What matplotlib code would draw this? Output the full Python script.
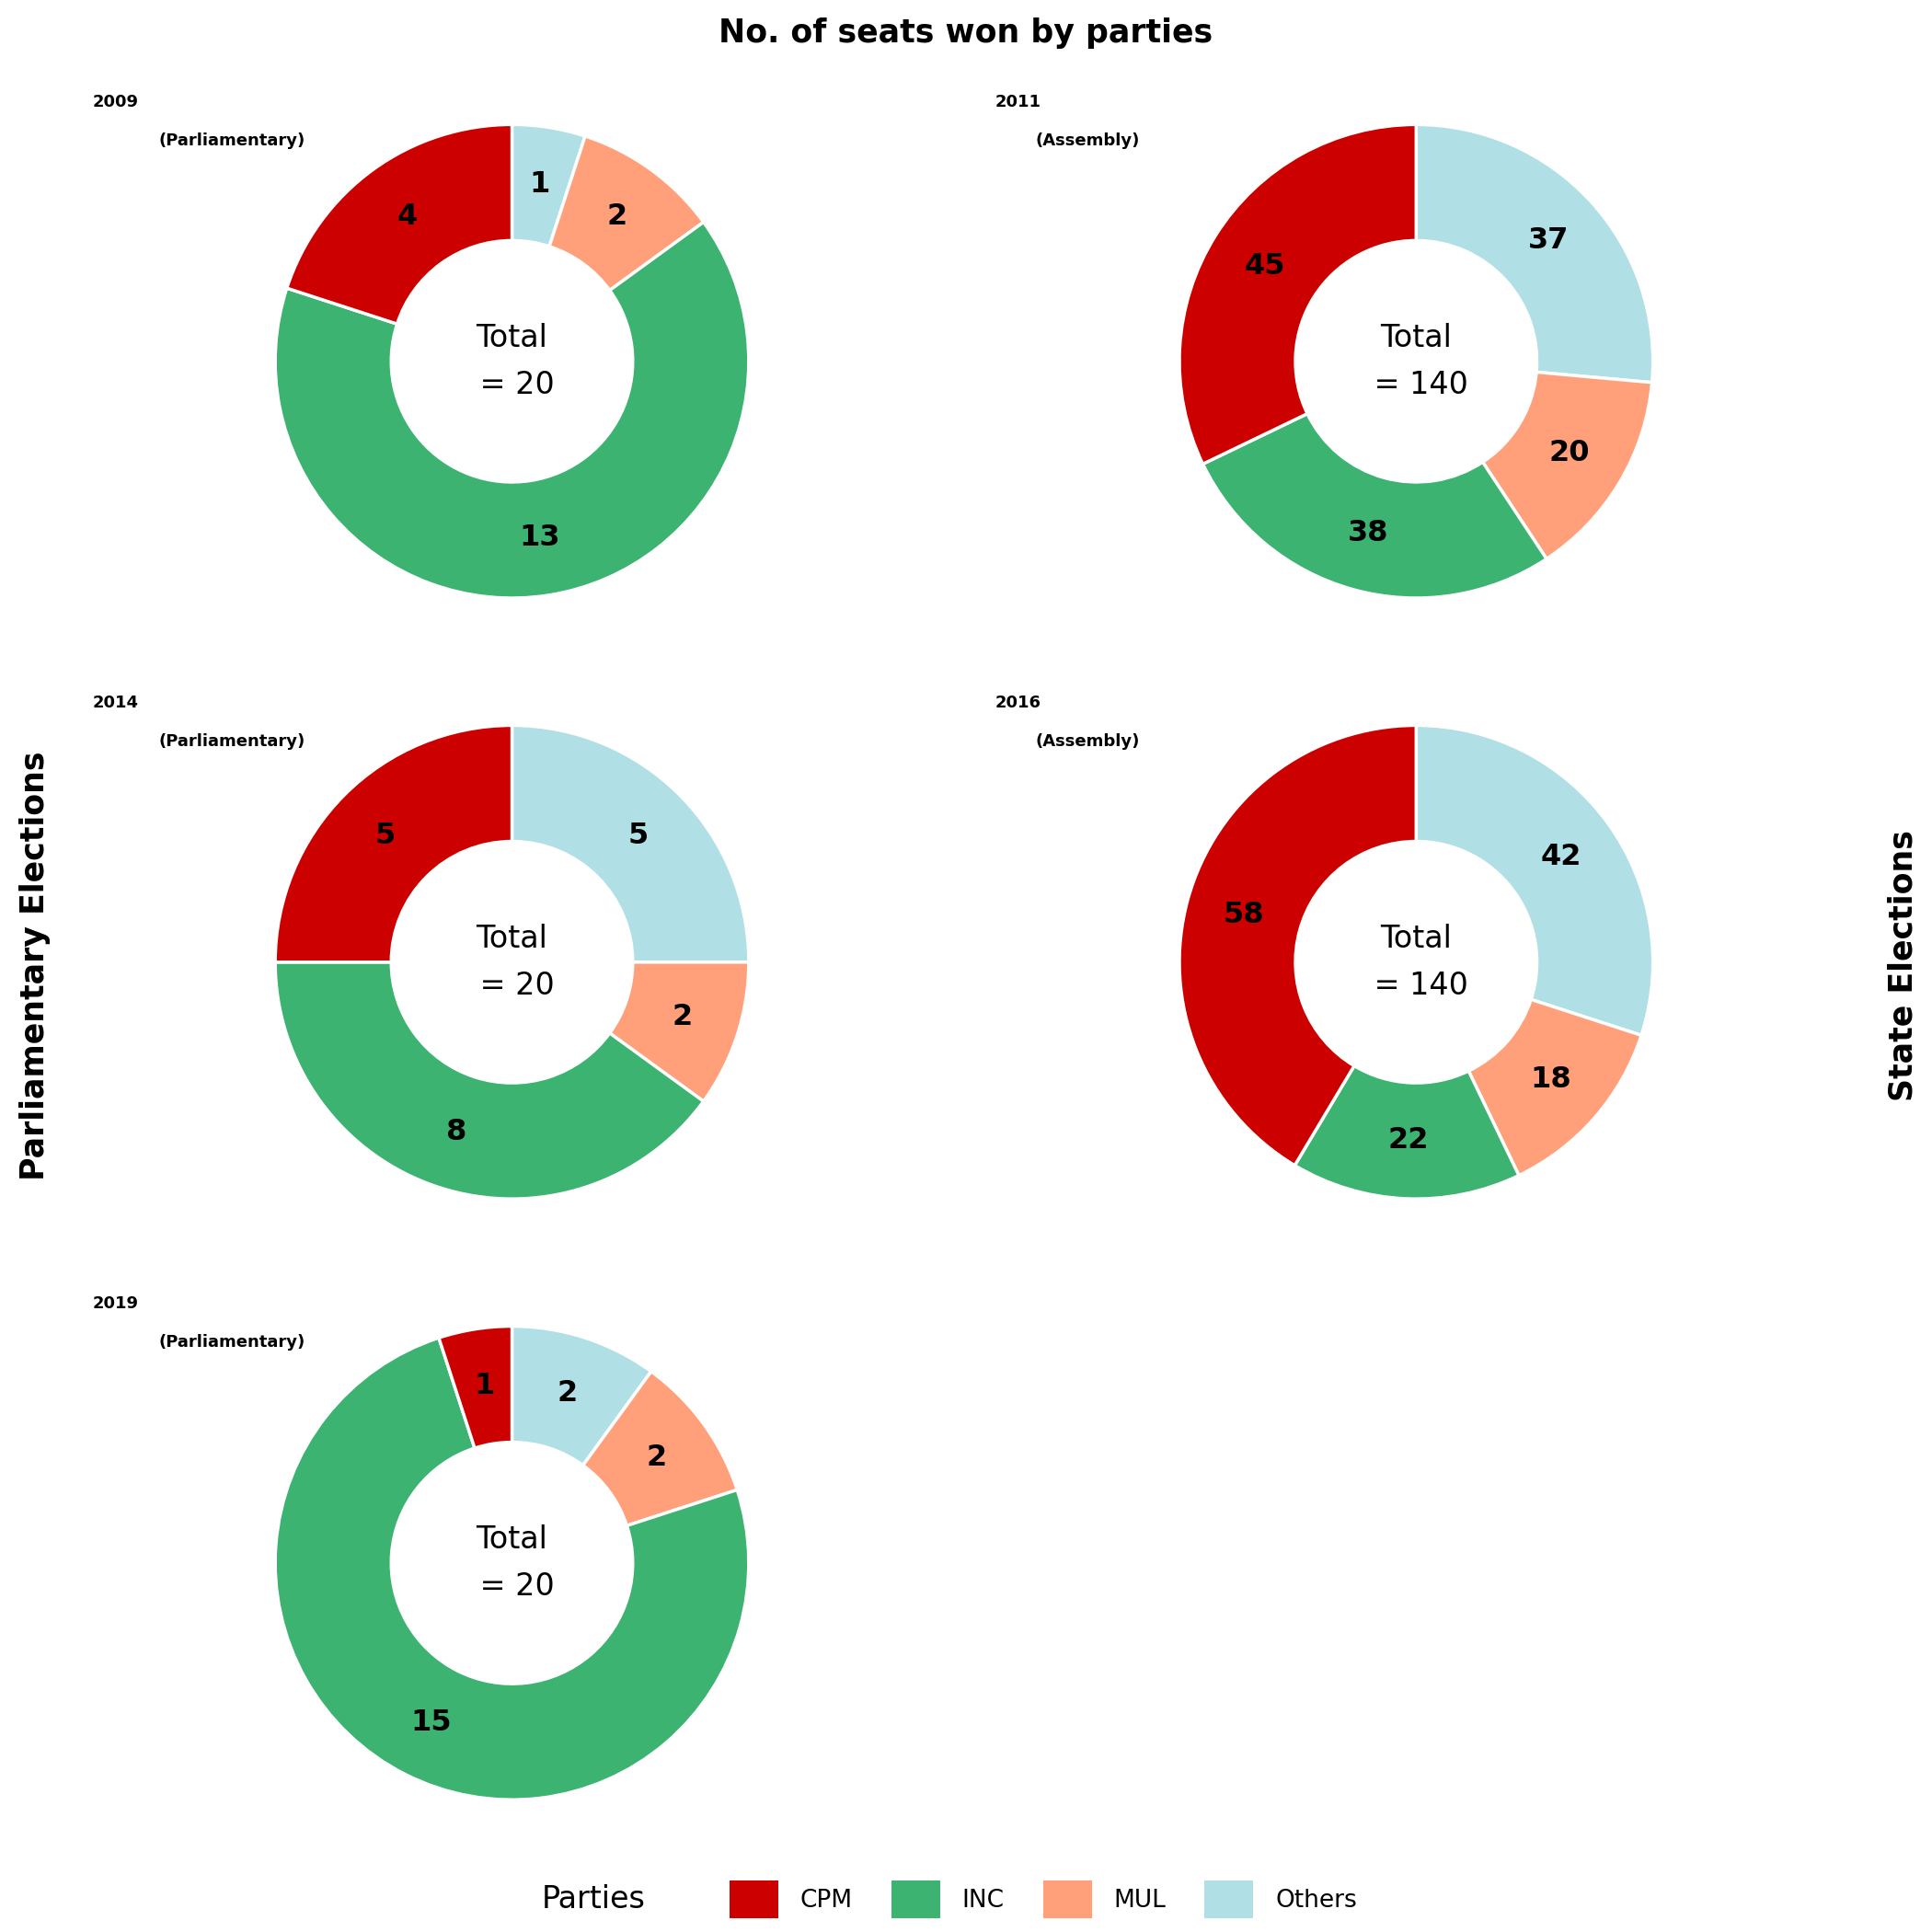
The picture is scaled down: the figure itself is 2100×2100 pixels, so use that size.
import matplotlib
matplotlib.use('Agg')
import matplotlib.pyplot as plt
from matplotlib.patches import Patch
import numpy as np

parties = ['CPM', 'INC', 'MUL', 'Others']
colors = {'CPM': '#CD0000', 'INC': '#3CB371', 'MUL': '#FFA07A', 'Others': '#B0DFE5'}

years = ['2009', '2011', '2014', '2016', '2019']
kinds = ['(Parliamentary)', '(Assembly)', '(Parliamentary)', '(Assembly)', '(Parliamentary)']
cpm = [4, 45, 5, 58, 1]
inc = [13, 38, 8, 22, 15]
mul = [2, 20, 2, 18, 2]
others = [1, 37, 5, 42, 2]
totals = [20, 140, 20, 140, 20]

# grid slot (col, row) for each election
slots = [(0, 0), (1, 0), (0, 1), (1, 1), (0, 2)]
cx = [0.265, 0.733]
cy = [0.813, 0.502, 0.191]
size = 0.25

fig = plt.figure(figsize=(21, 21), dpi=100)

for i, year in enumerate(years):
    col, row = slots[i]
    ax = fig.add_axes([cx[col] - size / 2, cy[row] - size / 2, size, size])
    order = ['Others', 'MUL', 'INC', 'CPM']
    vals = {'CPM': cpm[i], 'INC': inc[i], 'MUL': mul[i], 'Others': others[i]}
    v = [vals[p] for p in order]
    ax.pie(v, colors=[colors[p] for p in order], startangle=90, counterclock=False,
           radius=1, wedgeprops=dict(width=0.49, edgecolor='white', linewidth=2.5))
    cum = np.cumsum([0] + v)
    for k, val in enumerate(v):
        mid = (cum[k] + cum[k + 1]) / 2 / cum[-1]
        ang = np.pi / 2 - 2 * np.pi * mid
        ax.text(0.755 * np.cos(ang), 0.755 * np.sin(ang), str(val), ha='center', va='center',
                fontsize=23, fontweight='bold')
    ax.text(0, 0.0, 'Total\n = %d' % totals[i], ha='center', va='center', fontsize=24,
            linespacing=1.7)
    ax.set_xlim(-1.02, 1.02)
    ax.set_ylim(-1.02, 1.02)
    ax.set_aspect('equal')
    ax.axis('off')
    lx = 0.048 if col == 0 else 0.515
    ty = cy[row] + 0.134
    fig.text(lx, ty, year, fontsize=13, fontweight='bold', ha='left', va='center')
    fig.text(lx + 0.034 if col == 0 else lx + 0.021, ty - 0.020, kinds[i], fontsize=13,
             fontweight='bold', ha='left', va='center')

fig.text(0.5, 0.983, 'No. of seats won by parties', ha='center', va='center',
         fontsize=25, fontweight='bold')
fig.text(0.018, 0.5, 'Parliamentary Elections', rotation=90, ha='center', va='center',
         fontsize=25, fontweight='bold')
fig.text(0.985, 0.5, 'State Elections', rotation=90, ha='center', va='center',
         fontsize=25, fontweight='bold')

fig.text(0.307, 0.017, 'Parties', ha='center', va='center', fontsize=24)
handles = [Patch(facecolor=colors[p], edgecolor='none', label=p) for p in parties]
fig.legend(handles=handles, loc='center', bbox_to_anchor=(0.54, 0.017), ncol=4,
           frameon=False, fontsize=19, handlelength=2.0, handleheight=2.0,
           columnspacing=1.6, handletextpad=0.9)

fig.savefig('out.png', dpi=100, facecolor='white')
